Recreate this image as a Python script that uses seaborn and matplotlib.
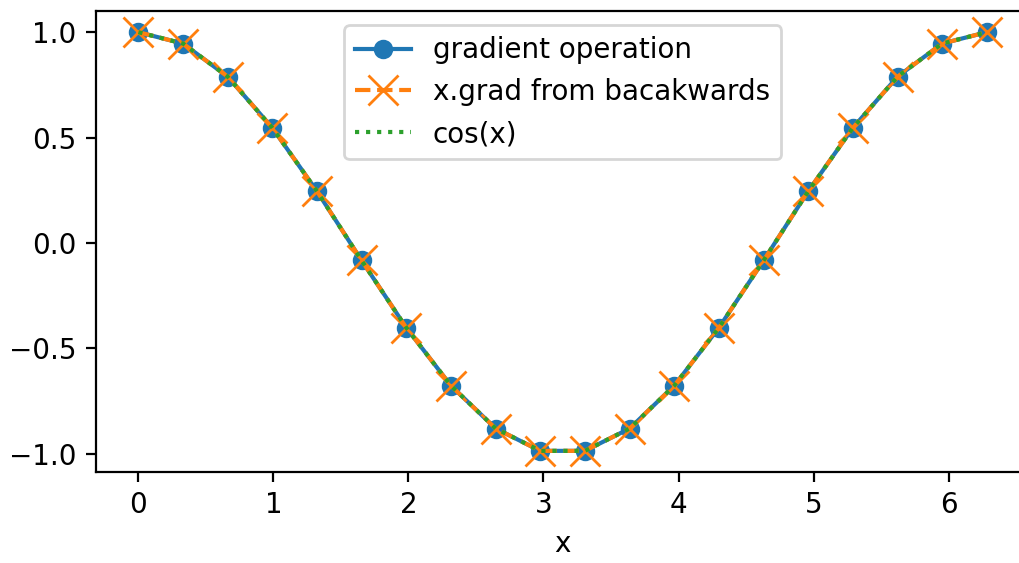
import seaborn as sns
import matplotlib.pyplot as plt

# sample points (20 points between 0 and 2*pi)
x_vals = [0.000, 0.331, 0.661, 0.992, 1.323, 1.653, 1.984, 2.315, 2.646, 2.976,
          3.307, 3.638, 3.968, 4.299, 4.630, 4.960, 5.291, 5.622, 5.952, 6.283]
grad_op = [1.000, 0.946, 0.789, 0.546, 0.245, -0.083, -0.402, -0.677, -0.880, -0.986,
           -0.986, -0.880, -0.677, -0.402, -0.083, 0.245, 0.546, 0.789, 0.946, 1.000]
grad_backward = [1.000, 0.946, 0.789, 0.546, 0.245, -0.083, -0.402, -0.677, -0.880, -0.986,
                 -0.986, -0.880, -0.677, -0.402, -0.083, 0.245, 0.546, 0.789, 0.946, 1.000]
cos_vals = [1.000, 0.946, 0.789, 0.546, 0.245, -0.083, -0.402, -0.677, -0.880, -0.986,
            -0.986, -0.880, -0.677, -0.402, -0.083, 0.245, 0.546, 0.789, 0.946, 1.000]

fig, ax = plt.subplots(figsize=(5.095, 2.815), dpi=200)
# the right spine is cut off in the original picture
fig.subplots_adjust(left=0.0942, right=1.01, top=0.980, bottom=0.162)

sns.lineplot(x=x_vals, y=grad_op, ax=ax, marker='o', markersize=6,
             markeredgecolor='C0', markeredgewidth=1.0,
             color='C0', label='gradient operation')
sns.lineplot(x=x_vals, y=grad_backward, ax=ax, marker='x', markersize=11,
             markeredgecolor='C1', markeredgewidth=1.0,
             linestyle='--', color='C1', label='x.grad from bacakwards')
sns.lineplot(x=x_vals, y=cos_vals, ax=ax, linestyle=':', color='C2', label='cos(x)')

ax.set_xlabel('x')
ax.legend(loc='upper center')

plt.savefig('out.png', dpi=200)
